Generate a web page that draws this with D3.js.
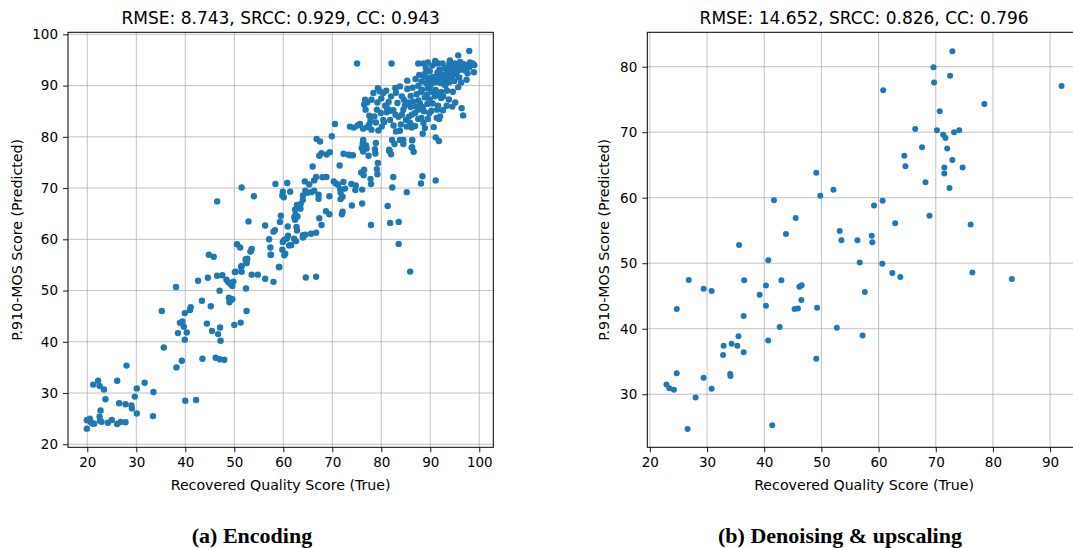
<!DOCTYPE html>
<html><head><meta charset="utf-8">
<script src="https://cdn.jsdelivr.net/npm/d3@7"></script>
<style>body{margin:0;background:#fff}svg{display:block}</style>
</head><body><svg id="c" width="1073" height="548"></svg>
<script>
// ---------- DATA ----------
const encodingPoints = [
[44.8,57.0],[45.8,56.6],[53.4,57.7],[57.4,57.0],[52.65,56.2],[52.5,55.5],[51.5,54.8],[59.1,54.6],[50.1,53.6],[51.5,53.65],[53.55,53.1],[54.8,53.1],[56.3,52.3],[58.0,51.7],[44.6,52.5],[46.5,52.9],[47.55,53.0],[42.6,51.9],[48.4,52.1],[48.8,51.6],[49.3,51.25],[49.6,50.9],[49.8,51.75],[38.1,50.7],[47.0,49.95],[52.4,50.4],[48.9,48.6],[49.6,48.3],[49.0,47.7],[43.4,48.0],[45.2,46.95],[35.2,46.0],[41.1,46.75],[40.95,46.2],[39.9,45.6],[52.5,46.0],[44.4,43.55],[51.3,43.75],[50.0,43.3],[38.9,43.7],[39.4,43.95],[39.7,42.95],[40.3,41.8],[38.5,41.7],[39.9,40.4],[45.45,42.1],[47.1,42.8],[46.7,41.5],[47.2,40.2],[35.6,38.9],[43.5,36.7],[46.2,36.9],[47.0,36.6],[47.95,36.5],[39.3,36.3],[38.2,35.0],[28.0,35.35],[22.2,32.4],[21.2,31.65],[22.5,31.4],[23.4,30.7],[26.1,32.4],[31.7,32.0],[30.1,30.9],[33.5,30.2],[23.7,28.8],[29.7,29.3],[26.5,28.0],[27.8,27.8],[29.0,27.6],[29.1,27.0],[40.0,28.5],[42.2,28.65],[22.7,26.6],[30.1,26.0],[33.4,25.5],[22.5,25.4],[19.9,24.7],[20.5,25.0],[20.75,24.3],[21.4,24.0],[20.96,24.1],[22.6,24.6],[22.9,24.4],[24.2,24.2],[25.0,24.75],[26.1,23.95],[26.8,24.35],[27.8,24.3],[19.9,23.05],
[67.35,76.3],[67.8,76.8],[68.85,76.55],[69.5,77.0],[72.3,76.7],[73.6,76.4],[74.2,76.4],[76.3,77.15],[77.4,76.3],[78.8,76.75],[81.6,77.3],[66.0,74.2],[71.5,74.4],[75.9,73.05],[76.5,73.6],[79.1,73.7],[82.45,72.15],[77.8,71.8],[66.7,72.15],[68.0,72.1],[68.8,72.15],[66.3,71.5],[64.4,71.3],[65.3,70.7],[70.3,71.3],[70.75,70.9],[71.2,70.65],[72.25,71.2],[73.9,70.8],[74.8,70.5],[74.7,69.6],[76.1,69.7],[72.6,69.9],[71.6,69.8],[71.7,69.1],[72.1,68.3],[71.7,67.85],[82.25,70.1],[85.2,69.2],[58.4,70.8],[60.8,71.0],[61.4,69.3],[59.9,69.3],[59.8,68.55],[60.1,68.2],[51.5,70.1],[54.0,68.4],[64.5,69.5],[64.9,69.1],[65.7,69.2],[66.3,69.5],[67.2,68.7],[67.2,67.9],[69.4,68.4],[64.0,68.55],[64.0,67.7],[63.55,66.9],[62.8,66.7],[62.4,65.8],[63.5,65.95],[62.5,64.8],[62.9,64.45],[62.25,64.3],[62.4,63.8],[68.7,65.5],[69.4,64.9],[67.35,64.1],[67.8,62.8],[72.1,65.4],[71.95,64.9],[74.0,66.6],[76.1,67.0],[81.3,66.5],[77.9,62.8],[81.8,63.2],[83.55,63.4],[83.55,59.1],[85.9,53.7],[59.5,64.6],[59.3,63.4],[58.3,61.8],[58.0,61.5],[56.3,62.7],[52.9,63.5],[60.9,62.5],[60.96,60.7],[60.7,60.1],[61.2,58.8],[61.6,58.9],[60.2,59.9],[59.9,59.5],[62.2,60.1],[62.6,59.65],[57.1,60.0],[57.35,58.4],[57.5,57.0],[59.8,57.95],[60.4,57.2],[60.2,56.9],[59.2,54.6],[62.7,62.4],[62.8,61.7],[64.0,60.8],[64.5,60.9],[64.0,60.35],[65.65,61.1],[66.7,61.3],[64.6,52.55],[66.7,52.7],[50.55,59.05],[51.2,58.4],[53.55,58.1],[53.3,57.6],[52.3,56.1],[52.5,55.35],[51.4,54.6],[50.3,53.7],[49.3,48.2],[46.5,67.4],
[75.05,94.3],[82.1,94.3],[97.95,96.75],[95.7,95.9],[87.55,94.3],[88.6,94.3],[90.95,94.3],[91.6,94.3],[92.5,94.3],[93.9,94.3],[96.1,94.6],[96.7,94.2],[98.1,94.5],[98.65,94.3],[98.9,92.6],[97.6,92.4],[97.4,91.15],[95.6,93.75],[94.8,93.2],[94.4,92.85],[93.9,92.6],[93.35,92.6],[94.7,92.3],[95.2,92.2],[92.85,92.0],[93.65,91.8],[94.4,91.6],[93.35,91.15],[93.9,90.7],[91.85,93.1],[91.45,92.5],[89.9,92.8],[89.1,93.4],[88.6,91.9],[89.8,91.5],[90.6,91.7],[91.3,91.15],[90.8,90.6],[91.95,90.55],[92.65,90.37],[85.3,90.96],[82.85,89.53],[83.8,89.84],[85.3,89.34],[88.3,89.2],[89.5,89.45],[90.3,88.8],[91.1,89.14],[92.25,88.75],[90.9,87.9],[92.65,87.9],[94.6,88.8],[95.1,86.7],[96.4,85.6],[96.7,84.18],[93.35,86.07],[91.6,86.07],[91.4,85.3],[90.5,86.5],[91.8,83.5],[91.3,83.7],[89.5,83.5],[90.7,81.9],
[87.75,92.1],[88.9,92.3],[89.4,91.3],[89.9,91.0],[90.75,90.8],[91.4,91.8],[87.55,89.98],[88.1,88.75],[88.9,87.7],[89.3,88.2],[89.9,87.25],[91.3,88.2],[92.2,87.6],[93.4,89.0],[79.3,89.5],[79.7,88.9],[80.4,88.55],[78.4,88.55],[78.0,87.25],[76.7,87.25],[77.1,86.7],[76.5,86.3],[79.2,86.7],[76.8,85.3],[77.55,84.1],[79.1,85.3],[79.9,84.65],[80.8,86.07],[81.2,85.6],[81.8,85.1],[81.1,84.8],[82.45,85.2],[82.9,84.3],[83.5,83.9],[84.2,84.3],[84.5,85.3],[84.8,86.07],[84.2,87.9],[84.6,87.25],[85.5,86.7],[86.0,85.8],[86.5,86.9],[87.1,85.9],[87.55,85.3],[87.9,86.5],[88.45,85.8],[88.7,85.0],[86.9,84.65],[86.2,84.3],[85.6,83.9],[85.05,83.3],[85.9,82.7],[87.55,83.5],[88.2,83.7],[88.6,82.7],[88.9,81.7],[88.45,80.6],[91.1,79.9],[86.2,81.8],[85.2,82.0],[84.5,79.4],[83.8,79.4],[86.2,77.9],[86.3,79.4],[82.2,79.4],[81.7,77.3],[83.8,81.2],[83.0,81.05],[82.5,82.2],[81.8,83.3],[80.55,82.9],[80.1,82.0],[79.4,81.25],[78.9,82.8],[78.0,81.4],[77.55,82.4],[77.1,81.9],[76.3,81.6],[75.65,82.5],[75.2,82.2],[74.4,81.8],[73.6,82.0],[70.55,82.5],[69.9,80.1],[66.8,79.6],[67.5,79.1],[76.3,79.4],[76.3,79.0],[76.9,78.3],[77.0,77.7],[76.0,77.8],[78.7,77.6],[78.9,78.8],[73.3,76.5],[81.6,77.5],
[86.3,79.3],[86.3,78.0],[88.4,72.3],[88.1,70.9],[91.1,71.5],
[76.2,78.6],[82.0,76.6],[82.7,78.6],[84.5,78.6],[86.6,77.1],[91.75,79.2],[79.2,72.7],[77.9,70.8],[76.4,72.5],[79.3,74.9],
[93.0,93.5],[93.8,93.0],[94.2,93.9],[95.0,94.3],[95.5,92.8],[96.0,93.1],[96.5,93.6],[97.2,94.0],[97.0,93.0],[95.9,91.6],[94.9,90.9],[93.1,90.0],[92.4,91.3],[92.0,92.4],[92.9,93.4],[90.4,93.9],[90.0,89.9],[89.2,90.4],[88.2,90.8],[87.0,91.3],[86.4,89.6],[87.2,88.3],[86.0,88.0],[87.6,87.1],[89.4,86.4],[90.2,85.1],[92.6,85.2],[93.8,87.3],[94.5,85.9],[95.7,89.7],[96.3,90.6],[98.0,93.6],[99.0,94.0],[94.0,94.9],[91.0,94.8],[89.5,94.5],[83.3,86.6],[82.0,87.9],[81.0,89.0],[83.0,88.6],[80.0,87.5],[81.5,86.8],[78.6,84.0],[80.4,83.3],[77.8,83.2],[84.0,82.4],[86.9,82.1],[89.8,84.6],[92.0,84.0]
];

const denoisePoints = [
[72.9,82.35],[69.6,79.9],[72.5,78.6],[69.7,77.6],[60.8,76.4],[92.0,77.05],[78.5,74.3],[70.7,73.2],[66.4,70.5],[70.2,70.3],[73.2,70.0],[74.1,70.3],[71.3,69.6],[71.7,69.1],[67.6,67.7],[72.0,67.5],[64.5,66.4],[64.7,64.8],[72.9,65.75],[71.5,64.6],[74.7,64.6],[71.5,63.7],[68.2,62.35],[72.4,61.5],[52.1,61.2],[49.8,60.3],[59.2,58.8],[60.7,59.55],[68.9,57.25],[62.9,56.1],[76.1,55.9],[53.2,54.9],[58.8,54.2],[53.5,53.5],[56.3,53.5],[58.9,53.2],[56.7,50.1],[60.65,49.9],[62.4,48.5],[63.8,47.9],[76.4,48.6],[83.3,47.6],[57.6,45.6],[57.2,38.95],[43.8,54.45],[35.6,52.8],[40.7,50.45],[26.8,47.45],[36.5,47.4],[43.0,47.4],[40.3,46.6],[29.4,46.1],[30.8,45.75],[46.15,46.4],[46.55,46.65],[39.2,45.2],[46.5,44.4],[24.7,43.0],[40.3,43.5],[45.3,43.0],[45.9,43.1],[49.25,43.2],[36.4,41.95],[42.7,40.25],[52.7,40.15],[35.5,38.85],[40.7,38.2],[34.3,37.7],[32.9,37.4],[35.3,37.4],[32.8,36.0],[36.4,36.4],[49.1,35.4],[34.05,33.1],[34.1,32.8],[24.7,33.2],[29.4,32.5],[22.9,31.5],[23.4,30.9],[24.2,30.7],[30.8,30.85],[28.0,29.5],[26.6,24.7],[41.4,25.25],[49.1,63.8],[41.7,59.6],[45.5,56.9]
];

const xTicksA = [20,30,40,50,60,70,80,90,100];
const yTicksA = [20,30,40,50,60,70,80,90,100];
const xTicksB = [20,30,40,50,60,70,80,90];
const yTicksB = [30,40,50,60,70,80];
const titleA = "RMSE: 8.743, SRCC: 0.929, CC: 0.943";
const titleB = "RMSE: 14.652, SRCC: 0.826, CC: 0.796";
const xLabel = "Recovered Quality Score (True)";
const yLabel = "P.910-MOS Score (Predicted)";
const captionA = "(a) Encoding";
const captionB = "(b) Denoising & upscaling";

// ---------- DRAW ----------
const svg = d3.select("#c");
const FONT = "DejaVu Sans, Verdana, sans-serif";
const BLUE = "#1f77b4";

function panel(o){
  const g = svg.append("g").attr("transform",`translate(${o.left},${o.top})`);
  const w = o.width, h = o.height;
  const x = d3.scaleLinear().domain(o.xDomain).range([0,w]);
  const y = d3.scaleLinear().domain(o.yDomain).range([h,0]);
  const clipId = "clip"+o.id;
  svg.append("clipPath").attr("id",clipId).append("rect").attr("x",o.left).attr("y",o.top).attr("width",w).attr("height",h);
  const grid = g.append("g");
  grid.selectAll(".gx").data(o.xTicks).join("line")
    .attr("x1",d=>x(d)).attr("x2",d=>x(d)).attr("y1",0).attr("y2",h)
    .attr("stroke","#b0b0b0").attr("stroke-width",0.9).attr("opacity",0.85);
  grid.selectAll(".gy").data(o.yTicks).join("line")
    .attr("y1",d=>y(d)).attr("y2",d=>y(d)).attr("x1",0).attr("x2",w)
    .attr("stroke","#b0b0b0").attr("stroke-width",0.9).attr("opacity",0.85);
  const pts = svg.append("g").attr("clip-path",`url(#${clipId})`)
    .append("g").attr("transform",`translate(${o.left},${o.top})`);
  pts.selectAll("circle").data(o.data).join("circle")
    .attr("cx",d=>x(d[0])).attr("cy",d=>y(d[1])).attr("r",o.r)
    .attr("fill",BLUE);
  const ax = g.append("g").attr("transform",`translate(0,${h})`)
    .call(d3.axisBottom(x).tickValues(o.xTicks).tickSize(5).tickPadding(5).tickSizeOuter(0));
  const ay = g.append("g")
    .call(d3.axisLeft(y).tickValues(o.yTicks).tickSize(5).tickPadding(5).tickSizeOuter(0));
  [ax,ay].forEach(a=>{
    a.select(".domain").remove();
    a.selectAll("line").attr("stroke","#000").attr("stroke-width",0.9);
    a.selectAll("text").attr("font-family",FONT).attr("font-size",13.5).attr("fill","#000");
  });
  g.append("rect").attr("width",w).attr("height",h).attr("fill","none")
    .attr("stroke","#000").attr("stroke-width",1);
  g.append("text").attr("x",w/2).attr("y",-8).attr("text-anchor","middle")
    .attr("font-family",FONT).attr("font-size",17).text(o.title);
  g.append("text").attr("x",w/2).attr("y",h+43).attr("text-anchor","middle")
    .attr("font-family",FONT).attr("font-size",14.2).text(xLabel);
  g.append("text").attr("transform",`translate(${o.ylabX},${h/2}) rotate(-90)`)
    .attr("text-anchor","middle").attr("font-family",FONT).attr("font-size",14.2).text(yLabel);
}

panel({id:"A",left:68,top:32.3,width:425.3,height:415,
  xDomain:[16.06,102.86], yDomain:[19.41,100.4],
  xTicks:xTicksA,yTicks:yTicksA,data:encodingPoints,r:3.2,title:titleA,ylabX:-46});
panel({id:"B",left:647.3,top:32.3,width:433.7,height:415,
  xDomain:[19.55,95.4], yDomain:[21.9,85.25],
  xTicks:xTicksB,yTicks:yTicksB,data:denoisePoints,r:3,title:titleB,ylabX:-38});

svg.append("text").attr("x",252).attr("y",543).attr("text-anchor","middle")
  .attr("font-family","Liberation Serif, serif").attr("font-weight","bold").attr("font-size",22).text(captionA);
svg.append("text").attr("x",840).attr("y",543).attr("text-anchor","middle")
  .attr("font-family","Liberation Serif, serif").attr("font-weight","bold").attr("font-size",22).text(captionB);
</script></body></html>
